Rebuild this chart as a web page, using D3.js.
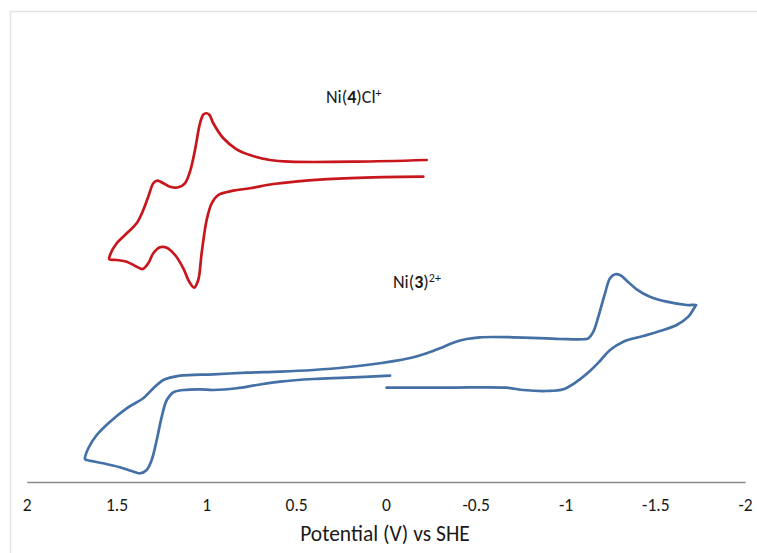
<!DOCTYPE html>
<html>
<head>
<meta charset="utf-8">
<script src="https://cdn.jsdelivr.net/npm/d3@7"></script>
<style>
  html, body { margin: 0; padding: 0; background: #fff; }
  svg { display: block; font-family: Carlito, Calibri, Lato, sans-serif; }
</style>
</head>
<body>
<svg id="chart" width="757" height="553"></svg>
<script>
// Cyclic voltammograms, potential (V vs SHE) against current (arbitrary units)
const tickValues = [2, 1.5, 1, 0.5, 0, -0.5, -1, -1.5, -2];

// Ni(4)Cl+ sweep
const redPotential = [
  -0.208, 0.070, 0.349, 0.627, 0.757, 0.850, 0.933, 0.970, 0.998, 1.026,
  1.045, 1.068, 1.095, 1.128, 1.174, 1.220, 1.258, 1.295, 1.323, 1.354,
  1.388, 1.443, 1.499, 1.540, 1.536, 1.499, 1.443, 1.388, 1.351, 1.323,
  1.295, 1.273, 1.239, 1.202, 1.156, 1.119, 1.091, 1.063, 1.035, 1.016,
  0.998, 0.982, 0.961, 0.905, 0.831, 0.757, 0.645, 0.534, 0.163, -0.227
];
const redCurrent = [
  76.33, 76.18, 75.68, 74.50, 73.43, 72.83, 71.75, 69.68, 65.50, 57.18,
  50.50, 48.58, 50.08, 53.43, 56.75, 58.58, 58.68, 57.18, 54.68, 53.25,
  53.83, 55.08, 55.50, 55.68, 56.75, 59.68, 62.18, 64.68, 68.00, 71.33,
  74.68, 75.33, 74.68, 73.83, 73.68, 74.68, 77.58, 83.00, 89.68, 91.88,
  92.18, 91.75, 89.68, 85.93, 83.18, 81.75, 80.50, 80.08, 80.08, 80.50
];

// Ni(3)2+ sweep
const bluePotential = [
  -0.004, -0.339, -0.673, -0.765, -0.895, -0.988, -1.062, -1.136, -1.192, -1.248,
  -1.322, -1.433, -1.526, -1.619, -1.684, -1.721, -1.727, -1.675, -1.563, -1.470,
  -1.396, -1.341, -1.303, -1.276, -1.248, -1.220, -1.183, -1.155, -1.127, -1.099,
  -0.969, -0.708, -0.524, -0.450, -0.375, -0.301, -0.227, -0.153, -0.060, 0.033,
  0.218, 0.404, 0.590, 0.775, 0.961, 1.146, 1.239, 1.295, 1.351, 1.443,
  1.536, 1.610, 1.657, 1.675, 1.666, 1.574, 1.481, 1.415, 1.369, 1.332,
  1.304, 1.276, 1.248, 1.220, 1.184, 1.128, 1.035, 0.961, 0.831, 0.719,
  0.590, 0.404, 0.218, -0.023
];
const blueCurrent = [
  23.58, 23.58, 23.58, 23.00, 22.75, 23.18, 25.08, 27.75, 30.25, 33.00,
  35.08, 36.50, 37.75, 39.25, 41.33, 43.83, 44.25, 44.25, 45.08, 46.33,
  48.18, 50.33, 51.75, 51.93, 50.93, 47.18, 41.33, 37.58, 35.93, 35.68,
  35.75, 36.18, 36.18, 35.75, 34.83, 33.43, 32.18, 31.18, 30.33, 29.68,
  28.68, 28.00, 27.58, 27.33, 26.93, 26.58, 25.50, 23.43, 20.93, 18.43,
  15.08, 11.75, 8.43, 5.68, 5.50, 4.68, 3.68, 2.75, 2.18, 3.00,
  5.50, 10.50, 16.33, 20.50, 22.43, 23.00, 23.18, 23.00, 23.43, 24.25,
  25.08, 25.75, 26.08, 26.58
];

const series = [
  { name: "red", color: "#c8161d", E: redPotential, I: redCurrent },
  { name: "blue", color: "#4470a6", E: bluePotential, I: blueCurrent }
];

const svg = d3.select("#chart");

// chart frame
svg.append("rect")
  .attr("x", 10.5).attr("y", 11.5)
  .attr("width", 800).attr("height", 600)
  .attr("fill", "none")
  .attr("stroke", "#e3e3e3")
  .attr("stroke-width", 1.5);

const x = d3.scaleLinear().domain([2, -2]).range([26.7, 745.1]);
const y = d3.scaleLinear().domain([0, 100]).range([482, 82]);

// x axis
const axis = svg.append("g")
  .attr("transform", `translate(0,${y(0)})`)
  .call(d3.axisBottom(x)
    .tickValues(tickValues)
    .tickFormat(d => String(d))
    .tickSize(0)
    .tickSizeOuter(0)
    .tickPadding(17));
axis.select(".domain").attr("stroke", "#8a8a8a").attr("stroke-width", 1.5);
axis.selectAll("text")
  .attr("fill", "#1a1a1a")
  .style("font-size", "17.5px")
  .style("font-family", "Carlito, Calibri, Lato, sans-serif");

svg.append("text")
  .attr("x", 385).attr("y", 541)
  .attr("text-anchor", "middle")
  .attr("fill", "#1a1a1a")
  .style("font-size", "21.5px")
  .text("Potential (V) vs SHE");

// traces
const line = d3.line()
  .x(d => x(d[0]))
  .y(d => y(d[1]))
  .curve(d3.curveCatmullRom.alpha(0.5));

series.forEach(s => {
  const pts = s.E.map((e, i) => [e, s.I[i]]);
  svg.append("path")
    .datum(pts)
    .attr("fill", "none")
    .attr("stroke", s.color)
    .attr("stroke-width", 2.7)
    .attr("stroke-linejoin", "round")
    .attr("stroke-linecap", "round")
    .attr("d", line);
});

// series labels
function label(xPos, yPos, parts) {
  const t = svg.append("text")
    .attr("x", xPos).attr("y", yPos)
    .attr("fill", "#1a1a1a")
    .style("font-size", "18px");
  parts.forEach(p => {
    const ts = t.append("tspan").text(p.t);
    if (p.b) ts.attr("font-weight", "bold");
    if (p.sup) ts.attr("dy", "-6").style("font-size", "12px");
  });
}
label(326, 103, [{ t: "Ni(" }, { t: "4", b: true }, { t: ")Cl" }, { t: "+", sup: true }]);
label(393, 288, [{ t: "Ni(" }, { t: "3", b: true }, { t: ")" }, { t: "2+", sup: true }]);
</script>
</body>
</html>
